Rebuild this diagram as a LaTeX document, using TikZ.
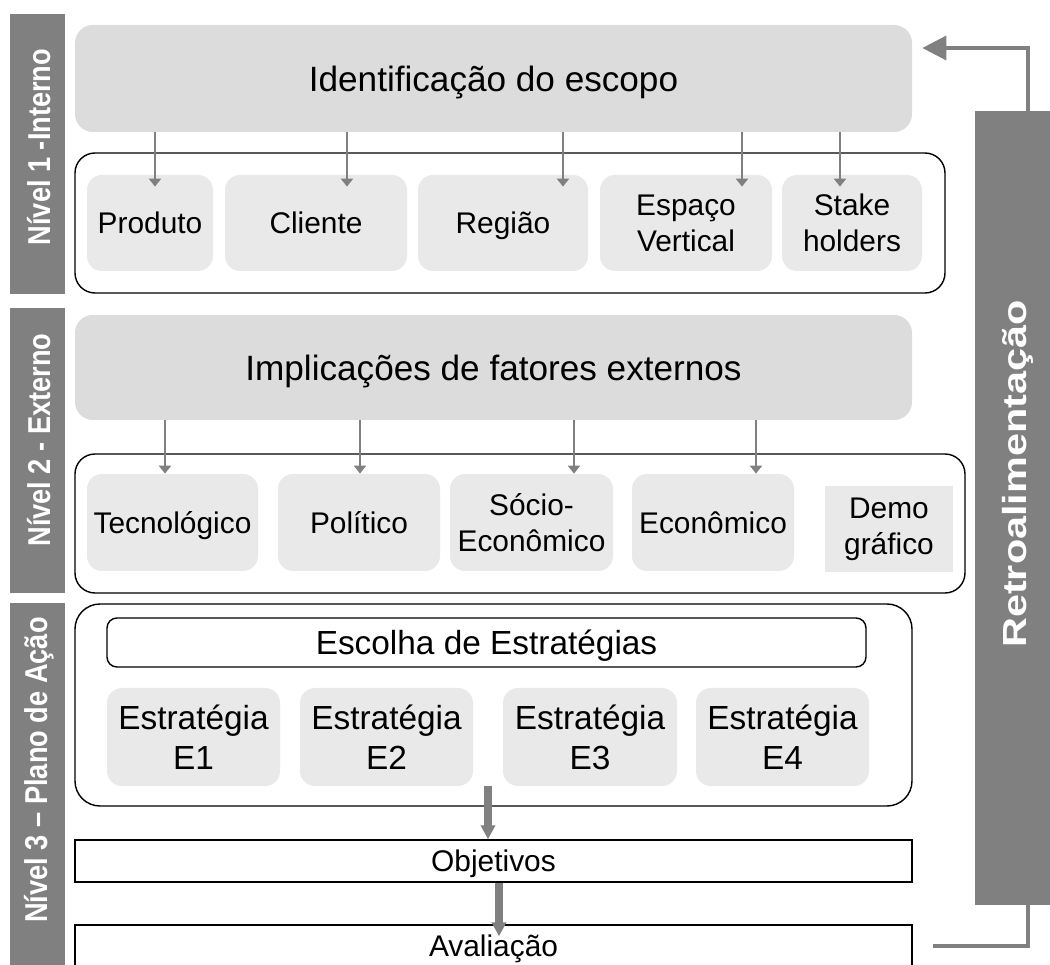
\documentclass[tikz,border=0pt]{standalone}
\usepackage{fontspec}
\setmainfont{Liberation Sans}
\usetikzlibrary{arrows.meta}

\definecolor{cinzaescuro}{RGB}{128,128,128}
\definecolor{cinzamedio}{RGB}{220,220,220}
\definecolor{cinzaclaro}{RGB}{233,233,233}

\tikzset{
  umalinha/.style={text height=#1, text depth=0pt},
  umalinha/.default=12.2pt,
  titulo/.style={umalinha=14.3pt, fill=cinzamedio, rounded corners=0.36cm, minimum width=16.74cm, inner sep=0pt, font=\fontsize{20}{24}\selectfont},
  moldura/.style={draw, line width=0.8pt, rounded corners=0.4cm, inner sep=0pt},
  caixa/.style={fill=cinzaclaro, rounded corners=0.3cm, minimum height=1.92cm, inner sep=0pt, align=center, font=\fontsize{17}{20.4}\selectfont},
  estrategia/.style={caixa, minimum width=3.46cm, minimum height=1.96cm, font=\fontsize{19}{22.7}\selectfont},
  faixa/.style={umalinha, draw, line width=0.8pt, minimum width=16.74cm, minimum height=0.84cm, inner sep=0pt, font=\fontsize{17}{20}\selectfont},
  rotulo/.style={rotate=90, text=white, inner sep=0pt, font=\bfseries\fontsize{18}{21}\selectfont},
  seta/.style={draw=cinzaescuro, line width=1.1pt, -{Triangle[length=0.16cm,width=0.24cm]}},
  setagrossa/.style={draw=cinzaescuro, line width=4pt, -{Triangle[length=0.28cm,width=0.28cm]}},
  retorno/.style={draw=cinzaescuro, line width=2pt}
}

\begin{document}
\begin{tikzpicture}
\useasboundingbox (0,0) rectangle (21,19.3);

\fill[cinzaescuro] (0.2,13.42) rectangle (1.3,19.02);
\node[rotulo] (rotum) at (0.78,16.36) {\scalebox{0.86}[1]{Nível 1 -Interno}};
\fill[cinzaescuro] (0.2,7.44) rectangle (1.3,13.14);
\node[rotulo] (rotdois) at (0.78,10.5) {\scalebox{0.86}[1]{Nível 2 - Externo}};
\fill[cinzaescuro] (0.2,-0.2) rectangle (1.3,7.24);
\node[rotulo] (rottres) at (0.78,3.9) {\scalebox{0.86}[1]{Nível 3 – Plano de Ação}};



\node[titulo, minimum height=2.14cm] (escopo) at (9.87,17.73) {Identificação do escopo};
\node[moldura, minimum width=17.4cm, minimum height=2.8cm] (nivelum) at (10.2,14.84) {};
\node[caixa, umalinha, minimum width=2.52cm] (produto) at (3.0,14.84) {Produto};
\node[caixa, umalinha, minimum width=3.64cm] (cliente) at (6.32,14.84) {Cliente};
\node[caixa, umalinha, minimum width=3.4cm] (regiao) at (10.06,14.84) {Região};
\node[caixa, minimum width=3.44cm] (espaco) at (13.72,14.84) {Espaço\\Vertical};
\node[caixa, minimum width=2.8cm] (stake) at (17.04,14.84) {Stake\\holders};

\draw[seta] (escopo.south -| 3.1,0) -- ([yshift=-0.24cm]produto.north -| 3.1,0);
\draw[seta] (escopo.south -| 6.94,0) -- ([yshift=-0.24cm]cliente.north -| 6.94,0);
\draw[seta] (escopo.south -| 11.26,0) -- ([yshift=-0.24cm]regiao.north -| 11.26,0);
\draw[seta] (escopo.south -| 14.84,0) -- ([yshift=-0.24cm]espaco.north -| 14.84,0);
\draw[seta] (escopo.south -| 16.8,0) -- ([yshift=-0.24cm]stake.north -| 16.8,0);


\node[titulo, minimum height=2.1cm] (externos) at (9.87,11.95) {Implicações de fatores externos};
\node[moldura, minimum width=17.8cm, minimum height=2.78cm] (niveldois) at (10.4,8.83) {};
\node[caixa, umalinha, minimum width=3.42cm, minimum height=1.94cm] (tecno) at (3.45,8.85) {Tecnológico};
\node[caixa, umalinha, minimum width=3.24cm, minimum height=1.94cm] (politico) at (7.18,8.85) {Político};
\node[caixa, minimum width=3.26cm, minimum height=1.94cm] (socio) at (10.63,8.85) {Sócio-\\Econômico};
\node[caixa, umalinha, minimum width=3.24cm, minimum height=1.94cm] (economico) at (14.26,8.85) {Econômico};
\node[caixa, rounded corners=0pt, minimum width=2.56cm, minimum height=1.72cm] (demografico) at (17.78,8.72) {Demo\\gráfico};

\draw[seta] (externos.south -| 3.3,0) -- (tecno.north -| 3.3,0);
\draw[seta] (externos.south -| 7.2,0) -- (politico.north -| 7.2,0);
\draw[seta] (externos.south -| 11.48,0) -- (socio.north -| 11.48,0);
\draw[seta] (externos.south -| 15.12,0) -- (economico.north -| 15.12,0);


\node[moldura, rounded corners=0.5cm, minimum width=16.74cm, minimum height=4.04cm] (niveltres) at (9.87,5.2) {};
\node[moldura, umalinha=13.6pt, fill=white, rounded corners=0.2cm, minimum width=15.18cm, minimum height=0.98cm, font=\fontsize{19}{22.7}\selectfont] (escolha) at (9.73,6.45) {Escolha de Estratégias};
\node[estrategia] (eum) at (3.87,4.56) {Estratégia\\E1};
\node[estrategia] (edois) at (7.73,4.56) {Estratégia\\E2};
\node[estrategia, minimum width=3.48cm] (etres) at (11.8,4.56) {Estratégia\\E3};
\node[estrategia] (equatro) at (15.65,4.56) {Estratégia\\E4};

\node[faixa] (objetivos) at (9.87,2.08) {Objetivos};
\node[faixa] (aval) at (9.87,0.38) {Avaliação};

\draw[setagrossa] (edois.south -| 9.76,0) -- (objetivos.north -| 9.76,0);
\draw[setagrossa] (objetivos.south -| 9.98,0) -- ([yshift=-0.24cm]aval.north -| 9.98,0);


\node[fill=cinzaescuro, minimum width=1.7cm, minimum height=15.88cm, inner sep=0pt] (retro) at (20.35,9.14) {};
\node[rotulo, font=\bfseries\fontsize{19}{22}\selectfont] (retrotxt) at (20.36,9.82) {\scalebox{1.24}[1]{Retroalimentação}};

\draw[retorno, -{Triangle[length=0.48cm,width=0.48cm]}] (retro.north -| 20.56,0) |- ([xshift=0.2cm,yshift=0.61cm]escopo.east);
\draw[retorno] (retro.south -| 20.56,0) |- ([xshift=0.4cm]aval.east);
\end{tikzpicture}
\end{document}
